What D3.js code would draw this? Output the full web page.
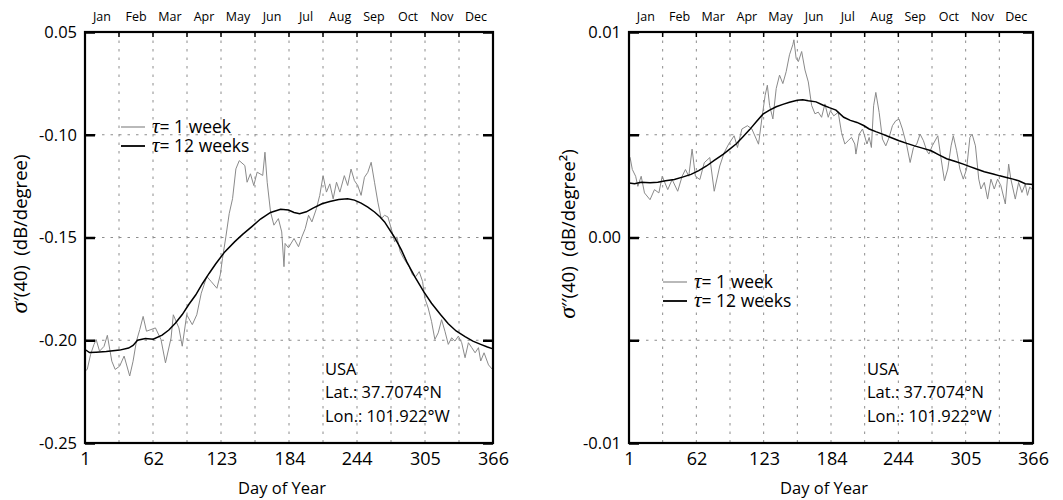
<!DOCTYPE html>
<html>
<head>
<meta charset="utf-8">
<script src="https://cdn.jsdelivr.net/npm/d3@7/dist/d3.min.js"></script>
<style>
body{margin:0;background:#fff}
svg{display:block;font-family:"Open Sans",sans-serif}
</style>
</head>
<body>
<svg width="1063" height="500"></svg>
<script>
// month names along the top
const months = ["Jan","Feb","Mar","Apr","May","Jun","Jul","Aug","Sep","Oct","Nov","Dec"]
// day-of-year tick labels
const dayTicks = [1, 62, 123, 184, 244, 305, 366]

// left panel y ticks (top label reads 0.05 in the original)
const leftTicks = [-0.25, -0.20, -0.15, -0.10, -0.05]
const leftTickLabels = ["-0.25", "-0.20", "-0.15", "-0.10", "0.05"]
// right panel y ticks
const rightTicks = [-0.01, -0.005, 0, 0.005, 0.01]
const rightTickLabels = ["-0.01", "", "0.00", "", "0.01"]

// sigma'(40), tau = 1 week  [day, value]
const slopeWeek = [
	[1,-0.2150],[3,-0.2142],[6,-0.2069],[9,-0.2021],[11,-0.1997],[14,-0.2053],[18,-0.2030],
	[21,-0.1976],[25,-0.2102],[28,-0.2142],[32,-0.2126],[36,-0.2077],[41,-0.2174],[44,-0.2102],
	[47,-0.2005],[50,-0.1948],[53,-0.1884],[56,-0.1956],[60,-0.1948],[64,-0.1940],[69,-0.1997],
	[73,-0.2110],[78,-0.1989],[80,-0.1876],[85,-0.1940],[88,-0.2029],[92,-0.1876],[97,-0.1924],
	[101,-0.1876],[105,-0.1771],[110,-0.1690],[114,-0.1715],[119,-0.1747],[122,-0.1682],[124,-0.1602],
	[127,-0.1497],[130,-0.1384],[133,-0.1311],[136,-0.1166],[139,-0.1126],[144,-0.1150],[146,-0.1231],
	[149,-0.1190],[152,-0.1247],[155,-0.1182],[160,-0.1198],[162,-0.1085],[164,-0.1231],[167,-0.1376],
	[170,-0.1440],[174,-0.1408],[177,-0.1473],[179,-0.1642],[180,-0.1529],[183,-0.1550],[188,-0.1505],
	[192,-0.1545],[195,-0.1497],[198,-0.1457],[201,-0.1392],[204,-0.1424],[208,-0.1360],[211,-0.1295],
	[214,-0.1199],[217,-0.1279],[220,-0.1239],[223,-0.1312],[226,-0.1231],[229,-0.1279],[233,-0.1199],
	[236,-0.1247],[239,-0.1167],[242,-0.1223],[245,-0.1247],[248,-0.1295],[251,-0.1207],[254,-0.1183],
	[257,-0.1134],[260,-0.1231],[263,-0.1328],[266,-0.1408],[269,-0.1392],[272,-0.1400],[275,-0.1457],
	[278,-0.1521],[280,-0.1497],[283,-0.1569],[286,-0.1601],[291,-0.1642],[294,-0.1682],[297,-0.1690],
	[300,-0.1666],[303,-0.1714],[305,-0.1795],[308,-0.1843],[311,-0.1908],[314,-0.1996],[317,-0.1964],
	[320,-0.1900],[323,-0.1956],[326,-0.2020],[329,-0.1988],[332,-0.2004],[335,-0.1980],[338,-0.2012],
	[341,-0.2085],[344,-0.2012],[347,-0.2036],[350,-0.2061],[353,-0.2036],[355,-0.2101],[358,-0.2061],
	[362,-0.2120],[366,-0.2145]
]
// sigma'(40), tau = 12 weeks
const slopeTwelve = [
	[1,-0.2045],[5,-0.2060],[11,-0.2058],[20,-0.2055],[32,-0.2048],[40,-0.2038],[44,-0.2025],
	[48,-0.2000],[55,-0.1992],[62,-0.1995],[70,-0.1975],[76,-0.1950],[82,-0.1916],[88,-0.1875],
	[94,-0.1825],[100,-0.1780],[106,-0.1725],[112,-0.1675],[118,-0.1628],[126,-0.1570],[135,-0.1520],
	[142,-0.1485],[150,-0.1448],[158,-0.1410],[167,-0.1378],[176,-0.1363],[183,-0.1366],[188,-0.1378],
	[193,-0.1384],[199,-0.1375],[205,-0.1357],[213,-0.1336],[220,-0.1325],[228,-0.1315],[236,-0.1312],
	[242,-0.1318],[248,-0.1333],[254,-0.1352],[260,-0.1376],[265,-0.1400],[269,-0.1424],[273,-0.1458],
	[278,-0.1500],[284,-0.1560],[289,-0.1620],[296,-0.1690],[304,-0.1763],[311,-0.1820],[319,-0.1875],
	[326,-0.1920],[333,-0.1955],[341,-0.1982],[348,-0.2004],[355,-0.2020],[361,-0.2033],[366,-0.2042]
]
// sigma''(40), tau = 1 week
const curvWeek = [
	[1,0.00395],[2,0.00389],[4,0.00331],[7,0.00298],[9,0.00249],[12,0.00298],[15,0.00217],
	[20,0.00184],[24,0.00233],[28,0.00217],[31,0.00298],[36,0.00233],[40,0.00282],[45,0.00225],
	[49,0.00298],[52,0.00331],[55,0.00298],[58,0.00430],[61,0.00298],[65,0.00282],[69,0.00364],
	[74,0.00389],[78,0.00225],[83,0.00348],[87,0.00413],[91,0.00454],[96,0.00495],[99,0.00438],
	[103,0.00528],[108,0.00544],[112,0.00528],[116,0.00479],[118,0.00454],[121,0.00577],[124,0.00692],
	[126,0.00741],[128,0.00643],[131,0.00577],[134,0.00725],[137,0.00790],[140,0.00749],[143,0.00807],
	[146,0.00889],[149,0.00938],[150,0.00962],[152,0.00872],[154,0.00856],[157,0.00905],[160,0.00815],
	[163,0.00757],[166,0.00643],[169,0.00602],[172,0.00610],[175,0.00585],[178,0.00650],[181,0.00585],
	[183,0.00617],[186,0.00592],[190,0.00609],[193,0.00511],[196,0.00455],[199,0.00471],[202,0.00487],
	[205,0.00455],[206,0.00406],[209,0.00503],[212,0.00528],[216,0.00455],[218,0.00487],[220,0.00438],
	[222,0.00641],[224,0.00706],[227,0.00609],[230,0.00479],[233,0.00446],[236,0.00487],[239,0.00544],
	[242,0.00568],[245,0.00576],[248,0.00528],[252,0.00446],[255,0.00365],[258,0.00438],[261,0.00455],
	[264,0.00503],[267,0.00471],[270,0.00422],[272,0.00406],[275,0.00446],[280,0.00495],[283,0.00382],
	[286,0.00276],[289,0.00333],[292,0.00446],[294,0.00495],[297,0.00422],[300,0.00333],[303,0.00284],
	[306,0.00333],[309,0.00487],[311,0.00503],[314,0.00446],[317,0.00284],[319,0.00236],[322,0.00268],
	[325,0.00187],[328,0.00284],[331,0.00236],[334,0.00284],[337,0.00252],[341,0.00163],[344,0.00357],
	[346,0.00284],[350,0.00187],[353,0.00268],[356,0.00219],[359,0.00260],[361,0.00205],[363,0.00245],
	[366,0.00230]
]
// sigma''(40), tau = 12 weeks
const curvTwelve = [
	[1,0.00265],[6,0.00262],[12,0.00269],[20,0.00266],[27,0.00269],[34,0.00276],[42,0.00282],
	[50,0.00295],[57,0.00307],[64,0.00325],[71,0.00348],[78,0.00375],[86,0.00405],[92,0.00430],
	[98,0.00456],[104,0.00490],[110,0.00525],[116,0.00563],[122,0.00600],[128,0.00620],[134,0.00636],
	[140,0.00648],[146,0.00658],[153,0.00668],[158,0.00670],[163,0.00665],[170,0.00660],[176,0.00645],
	[182,0.00632],[188,0.00620],[195,0.00585],[201,0.00570],[207,0.00560],[213,0.00545],[218,0.00528],
	[224,0.00515],[230,0.00503],[237,0.00488],[245,0.00471],[252,0.00458],[259,0.00446],[266,0.00435],
	[274,0.00422],[281,0.00402],[288,0.00383],[296,0.00370],[303,0.00357],[309,0.00345],[315,0.00333],
	[322,0.00320],[330,0.00309],[336,0.00300],[342,0.00292],[348,0.00284],[353,0.00276],[359,0.00262],
	[366,0.00258]
]

const legendLabels = ["= 1 week", "= 12 weeks"]
const siteLines = ["USA", "Lat.: 37.7074°N", "Lon.: 101.922°W"]

const svg = d3.select("svg")
const plotTop = 32, plotBottom = 443

const drawPanel = function (p) {
	const x = d3.scaleLinear().domain([1, 366]).range([p.left, p.right])
	const y = d3.scaleLinear().domain(p.domain).range([plotBottom, plotTop])
	const g = svg.append("g")

	// dashed grid: month boundaries and inner y ticks
	g.append("g")
		.selectAll("line")
		.data(d3.range(1, 12))
		.join("line")
		.attr("x1", (d) => x(1 + d * 365 / 12))
		.attr("x2", (d) => x(1 + d * 365 / 12))
		.attr("y1", plotTop)
		.attr("y2", plotBottom)
		.attr("stroke", "#8c8c8c")
		.attr("stroke-dasharray", "2.5,6")
	g.append("g")
		.selectAll("line")
		.data(p.ticks.slice(1, -1))
		.join("line")
		.attr("x1", p.left)
		.attr("x2", p.right)
		.attr("y1", (d) => y(d))
		.attr("y2", (d) => y(d))
		.attr("stroke", "#8c8c8c")
		.attr("stroke-dasharray", "2.5,6")

	// the two series
	const line = d3.line()
		.x((d) => x(d[0]))
		.y((d) => y(d[1]))
	g.append("path")
		.attr("d", line(p.week))
		.attr("fill", "none")
		.attr("stroke", "#8a8a8a")
		.attr("stroke-width", 1)
	g.append("path")
		.attr("d", line(p.twelve))
		.attr("fill", "none")
		.attr("stroke", "#000")
		.attr("stroke-width", 1.5)

	// y axes, ticks pointing inwards
	const leftAxis = g.append("g")
		.attr("transform", `translate(${p.left},0)`)
		.call(d3.axisLeft(y).tickValues(p.ticks).tickSize(-10).tickPadding(8)
			.tickFormat((d, i) => p.labels[i]))
	const rightAxis = g.append("g")
		.attr("transform", `translate(${p.right},0)`)
		.call(d3.axisRight(y).tickValues(p.ticks).tickSize(-10).tickFormat(""))
	;[leftAxis, rightAxis].forEach((a) => {
		a.select(".domain").remove()
		a.selectAll("line").attr("stroke-width", 2.5)
	})
	leftAxis.selectAll("text")
		.attr("font-family", "Open Sans")
		.attr("font-size", 16.5)
		.attr("fill", "#000")

	// small ticks hanging from the top frame
	g.append("g")
		.selectAll("line")
		.data(d3.range(1, 12))
		.join("line")
		.attr("x1", (d) => x(1 + d * 365 / 12))
		.attr("x2", (d) => x(1 + d * 365 / 12))
		.attr("y1", plotTop)
		.attr("y2", plotTop + 5)
		.attr("stroke", "#000")
		.attr("stroke-width", 1.5)

	// bottom labels
	const bottomAxis = g.append("g")
		.attr("transform", `translate(0,${plotBottom})`)
		.call(d3.axisBottom(x).tickValues(dayTicks).tickSize(0).tickPadding(9))
	bottomAxis.select(".domain").remove()
	bottomAxis.selectAll("text")
		.attr("font-family", "Open Sans")
		.attr("font-size", 18)
		.attr("fill", "#000")

	// frame
	g.append("rect")
		.attr("x", p.left)
		.attr("y", plotTop)
		.attr("width", p.right - p.left)
		.attr("height", plotBottom - plotTop)
		.attr("fill", "none")
		.attr("stroke", "#000")
		.attr("stroke-width", 2.2)

	// month names
	g.append("g")
		.selectAll("text")
		.data(months)
		.join("text")
		.attr("x", (d, i) => x(1 + (i + 0.5) * 365 / 12))
		.attr("y", 21)
		.attr("text-anchor", "middle")
		.attr("font-size", 12.5)
		.text((d) => d)

	// axis titles
	g.append("text")
		.attr("x", (p.left + p.right) / 2 - 7)
		.attr("y", 494)
		.attr("text-anchor", "middle")
		.attr("font-size", 16.5)
		.text("Day of Year")
	const yt = g.append("text")
		.attr("transform", `translate(${p.titleX},234) rotate(-90)`)
		.attr("text-anchor", "middle")
		.attr("font-size", 18.5)
	yt.append("tspan")
		.attr("font-family", "Liberation Serif")
		.attr("font-style", "italic")
		.attr("font-size", 24)
		.text("σ")
	yt.append("tspan").text(p.prime + "(40)\u00a0\u00a0" + p.unit)

	// legend
	const lg = g.append("g")
		.selectAll("g")
		.data(legendLabels)
		.join("g")
		.attr("transform", (d, i) => `translate(${p.legX},${p.legY + i * 19})`)
	lg.append("line")
		.attr("x1", 0)
		.attr("x2", 24)
		.attr("stroke", (d, i) => i == 0 ? "#8a8a8a" : "#000")
		.attr("stroke-width", (d, i) => i == 0 ? 1.2 : 1.8)
	const lt = lg.append("text")
		.attr("x", 31)
		.attr("y", 6)
		.attr("font-size", 17.5)
	lt.append("tspan")
		.attr("font-family", "Liberation Serif")
		.attr("font-style", "italic")
		.attr("font-size", 21)
		.text("τ")
	lt.append("tspan").text((d) => d)

	// site note
	g.append("g")
		.selectAll("text")
		.data(siteLines)
		.join("text")
		.attr("x", p.noteX)
		.attr("y", (d, i) => 375 + i * 23.3)
		.attr("font-size", 16.5)
		.text((d) => d)
}

drawPanel({
	left: 85, right: 493, domain: [-0.25, -0.05],
	ticks: leftTicks, labels: leftTickLabels,
	week: slopeWeek, twelve: slopeTwelve,
	titleX: 27, prime: "\u2032", unit: "(dB/degree)",
	legX: 121, legY: 127, noteX: 325
})
drawPanel({
	left: 629, right: 1033, domain: [-0.01, 0.01],
	ticks: rightTicks, labels: rightTickLabels,
	week: curvWeek, twelve: curvTwelve,
	titleX: 575, prime: "\u2032\u2032", unit: "(dB/degree\u00b2)",
	legX: 663, legY: 282, noteX: 867
})
</script>
</body>
</html>
